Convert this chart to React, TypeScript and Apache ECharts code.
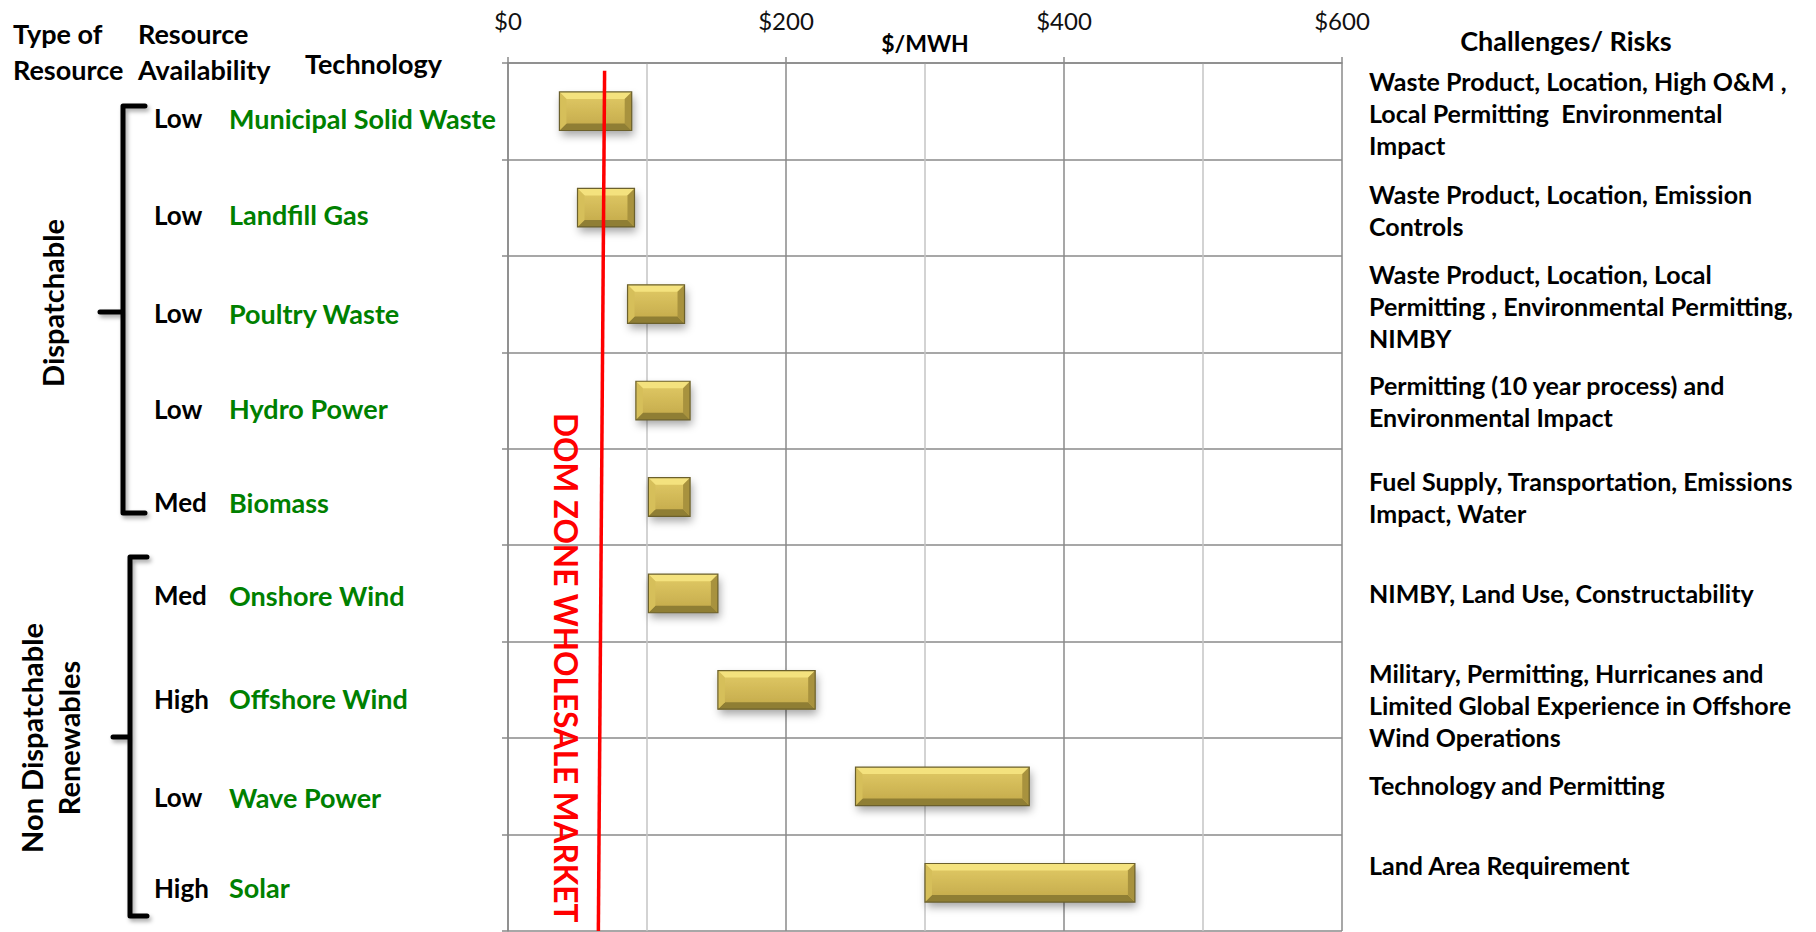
import React, { useEffect, useRef } from 'react';
import * as echarts from 'echarts';

// ---------- data ----------
const technologies = [
  'Municipal Solid Waste',
  'Landfill Gas',
  'Poultry Waste',
  'Hydro Power',
  'Biomass',
  'Onshore Wind',
  'Offshore Wind',
  'Wave Power',
  'Solar',
];
const availability = ['Low', 'Low', 'Low', 'Low', 'Med', 'Med', 'High', 'Low', 'High'];
const costLow = [37, 50, 86, 92, 101, 101, 151, 250, 300];
const costHigh = [89, 91, 127, 131, 131, 151, 221, 375, 451];
const challenges = [
  'Waste Product, Location, High O&M ,\nLocal Permitting  Environmental\nImpact',
  'Waste Product, Location, Emission\nControls',
  'Waste Product, Location, Local\nPermitting , Environmental Permitting,\nNIMBY',
  'Permitting (10 year process) and\nEnvironmental Impact',
  'Fuel Supply, Transportation, Emissions\nImpact, Water',
  'NIMBY, Land Use, Constructability',
  'Military, Permitting, Hurricanes and\nLimited Global Experience in Offshore\nWind Operations',
  'Technology and Permitting',
  'Land Area Requirement',
];
// wholesale market line: [$/MWh, row position] at its top and bottom ends
const wholesaleLine = [
  [69.5, 0.08],
  [65, 9],
];
const wholesaleLabel = 'DOM ZONE WHOLESALE MARKET';
const xAxisName = '$/MWH';
const groupNames = ['Dispatchable', 'Non Dispatchable\nRenewables'];

// ---------- styles ----------
const FONT = 'Lato';
const leftLabelShift = [7, 7, 9, 8, 5, 2, 9, 11, 5];
const rightLabelShift = [2, 2, 2, 0, 0, 0, 15, -1, -18];

function buildOption() {
  const barData = technologies.map((_, i) => [costLow[i], costHigh[i], i]);
  const labelData = technologies.map((_, i) => [0, i]);

  const bracket = (xv: number, xa: number, yt: number, yb: number, ym: number, xn: number) => ({
    type: 'polyline',
    shape: {
      points: [
        [xa, yt],
        [xv, yt],
        [xv, ym],
        [xn, ym],
        [xv, ym],
        [xv, yb],
        [xa, yb],
      ],
    },
    style: {
      stroke: '#000',
      lineWidth: 5,
      fill: null,
      lineJoin: 'round',
      lineCap: 'round',
      shadowBlur: 4,
      shadowOffsetX: 2,
      shadowOffsetY: 3,
      shadowColor: 'rgba(0,0,0,0.35)',
    },
  });

  const hdr = (text: string, x: number, y: number, size: number, align = 'left') => ({
    type: 'text',
    x,
    y,
    style: {
      text,
      font: `bold ${size}px ${FONT}`,
      fill: '#000',
      align,
      verticalAlign: 'middle',
      lineHeight: 36,
    },
  });

  return {
    animation: false,
    backgroundColor: '#ffffff',
    textStyle: { fontFamily: FONT },
    grid: {
      left: 508,
      right: 474,
      top: 63,
      bottom: 1,
      containLabel: false,
      outerBoundsMode: 'none',
    },
    xAxis: {
      type: 'value',
      position: 'top',
      min: 0,
      max: 600,
      interval: 200,
      name: xAxisName,
      nameLocation: 'middle',
      nameGap: 9,
      nameMoveOverlap: false,
      nameTextStyle: { fontFamily: FONT, fontWeight: 'bold', fontSize: 23, color: '#000' },
      axisLine: { show: true, lineStyle: { color: '#8a8a8a', width: 1.5 } },
      axisTick: { show: true, length: 6, lineStyle: { color: '#8a8a8a', width: 1.5 } },
      axisLabel: {
        formatter: (v: number) => '$' + v,
        margin: 31,
        fontFamily: FONT,
        fontSize: 24,
        color: '#111',
      },
      splitLine: { show: true, lineStyle: { color: '#8a8a8a', width: 1.5 } },
      minorTick: { show: false, splitNumber: 2 },
      minorSplitLine: { show: true, lineStyle: { color: '#c4c4c4', width: 1.5 } },
    },
    yAxis: [
      {
        type: 'category',
        inverse: true,
        data: technologies,
        axisLine: { show: true, lineStyle: { color: '#8a8a8a', width: 1.5 } },
        axisTick: { show: true, length: 6, lineStyle: { color: '#8a8a8a', width: 1.5 } },
        splitLine: { show: true, lineStyle: { color: '#8a8a8a', width: 1.5 } },
        axisLabel: { show: false },
      },
      {
        type: 'value',
        show: false,
        inverse: true,
        min: 0,
        max: 9,
        splitLine: { show: false },
      },
    ],
    series: [
      {
        type: 'custom',
        xAxisIndex: 0,
        yAxisIndex: 0,
        data: barData,
        encode: { x: [0, 1], y: 2 },
        renderItem: (_params: any, api: any) => {
          const cat = api.value(2);
          const p0 = api.coord([api.value(0), cat]);
          const p1 = api.coord([api.value(1), cat]);
          const band = api.size([0, 1])[1];
          const h = band * 0.4;
          const x0 = p0[0];
          const x1 = p1[0];
          const y0 = p0[1] - h / 2;
          const y1 = p0[1] + h / 2;
          const b = 7;
          const w = x1 - x0;
          return {
            type: 'group',
            children: [
              {
                type: 'rect',
                shape: { x: x0, y: y0, width: w, height: h },
                style: {
                  fill: new echarts.graphic.LinearGradient(0, 0, 0, 1, [
                    { offset: 0, color: '#e2cb66' },
                    { offset: 1, color: '#c2a849' },
                  ]),
                  shadowBlur: 8,
                  shadowOffsetX: 2,
                  shadowOffsetY: 5,
                  shadowColor: 'rgba(0,0,0,0.35)',
                },
              },
              {
                type: 'polygon',
                shape: { points: [[x0, y0], [x1, y0], [x1 - b, y0 + b], [x0 + b, y0 + b]] },
                style: { fill: '#f4e27e' },
              },
              {
                type: 'polygon',
                shape: { points: [[x0, y1], [x1, y1], [x1 - b, y1 - b], [x0 + b, y1 - b]] },
                style: { fill: '#8f7e34' },
              },
              {
                type: 'polygon',
                shape: { points: [[x0, y0], [x0 + b, y0 + b], [x0 + b, y1 - b], [x0, y1]] },
                style: { fill: '#d6bf5a' },
              },
              {
                type: 'polygon',
                shape: { points: [[x1, y0], [x1 - b, y0 + b], [x1 - b, y1 - b], [x1, y1]] },
                style: { fill: '#a8923e' },
              },
              {
                type: 'rect',
                shape: { x: x0, y: y0, width: w, height: h },
                style: { fill: null, stroke: '#6b602c', lineWidth: 1.2 },
              },
            ],
          };
        },
        z: 3,
      },
      {
        // row texts: availability + technology on the left, challenges on the right
        type: 'custom',
        xAxisIndex: 0,
        yAxisIndex: 0,
        clip: false,
        silent: true,
        data: labelData,
        encode: { x: 0, y: 1 },
        renderItem: (params: any, api: any) => {
          const i = params.dataIndex;
          const yc = api.coord([0, api.value(1)])[1];
          const yl = yc + leftLabelShift[i];
          const yr = yc + rightLabelShift[i];
          return {
            type: 'group',
            children: [
              {
                type: 'text',
                x: 154,
                y: yl,
                style: {
                  text: availability[i],
                  font: `bold 26px ${FONT}`,
                  fill: '#000',
                  align: 'left',
                  verticalAlign: 'middle',
                },
              },
              {
                type: 'text',
                x: 229,
                y: yl,
                style: {
                  text: technologies[i],
                  font: `bold 27px ${FONT}`,
                  fill: '#008000',
                  align: 'left',
                  verticalAlign: 'middle',
                },
              },
              {
                type: 'text',
                x: 1369,
                y: yr,
                style: {
                  text: challenges[i],
                  font: `bold 25px ${FONT}`,
                  lineHeight: 32,
                  fill: '#000',
                  align: 'left',
                  verticalAlign: 'middle',
                },
              },
            ],
          };
        },
        z: 5,
      },
      {
        type: 'line',
        xAxisIndex: 0,
        yAxisIndex: 1,
        data: wholesaleLine,
        symbol: 'none',
        lineStyle: { color: '#ff0000', width: 3.5 },
        z: 4,
      },
    ],
    graphic: [
      hdr('Type of\nResource', 13, 51, 27),
      hdr('Resource\nAvailability', 138, 51, 27),
      hdr('Technology', 305, 63, 27),
      hdr('Challenges/ Risks', 1566, 40, 27, 'center'),
      bracket(123, 145, 106, 513, 312, 100),
      bracket(130, 147, 557, 916, 737, 113),
      {
        type: 'text',
        x: 52,
        y: 303,
        rotation: Math.PI / 2,
        style: {
          text: groupNames[0],
          font: `bold 29px ${FONT}`,
          fill: '#000',
          align: 'center',
          verticalAlign: 'middle',
        },
      },
      {
        type: 'text',
        x: 50,
        y: 738,
        rotation: Math.PI / 2,
        style: {
          text: groupNames[1],
          font: `bold 29px ${FONT}`,
          fill: '#000',
          align: 'center',
          verticalAlign: 'middle',
          lineHeight: 37,
        },
      },
      {
        type: 'text',
        x: 566,
        y: 413,
        rotation: -Math.PI / 2,
        z: 10,
        style: {
          text: wholesaleLabel,
          font: `bold 31.5px ${FONT}`,
          fill: '#ff0000',
          align: 'left',
          verticalAlign: 'middle',
        },
      },
    ],
  };
}

export default function App() {
  const ref = useRef<HTMLDivElement>(null);
  useEffect(() => {
    const chart = echarts.init(ref.current as HTMLDivElement, null, { renderer: 'svg' });
    chart.setOption(buildOption() as any);
    return () => chart.dispose();
  }, []);
  return (
    <div
      ref={ref}
      style={{ position: 'fixed', left: 0, top: 0, width: 1816, height: 932, background: '#fff' }}
    />
  );
}
